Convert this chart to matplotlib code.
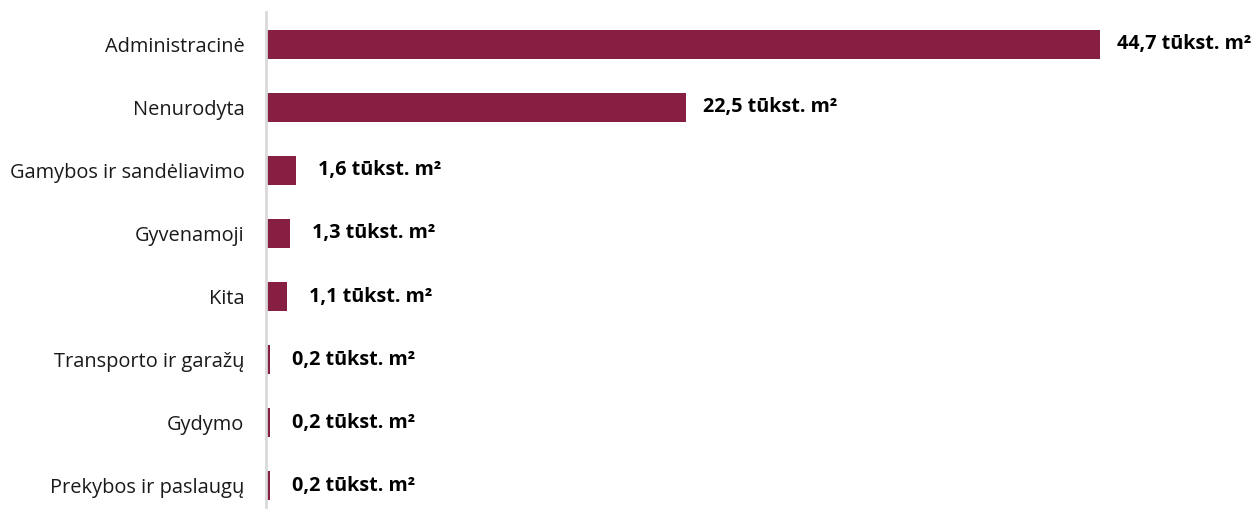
import matplotlib
matplotlib.use("Agg")
import matplotlib.pyplot as plt

categories = ["Administracinė", "Nenurodyta", "Gamybos ir sandėliavimo", "Gyvenamoji",
              "Kita", "Transporto ir garažų", "Gydymo", "Prekybos ir paslaugų"]
values = [44.7, 22.5, 1.6, 1.3, 1.1, 0.2, 0.2, 0.2]
value_labels = ["44,7", "22,5", "1,6", "1,3", "1,1", "0,2", "0,2", "0,2"]
unit = " tūkst. m²"

plt.rcParams['font.family'] = ['Open Sans', 'DejaVu Sans']

fig = plt.figure(figsize=(12.6, 5.09), dpi=100)
ax = fig.add_axes([266/1260, 0, 1 - 266/1260, 1 - 12/509])

ypos = list(range(len(categories)))
ax.barh(ypos, values, height=0.46, color='#861F41')
ax.set_xlim(0, 994/18.66)
ax.set_ylim(7.365, -0.508)

for y, v, lab in zip(ypos, values, value_labels):
    off = 12.5 if v > 5 else 16
    ax.annotate(lab + unit, xy=(v, y), xytext=(off, 0), textcoords='offset points',
                va='center', ha='left', fontsize=14.2, fontweight='bold', color='black')

ax.set_yticks(ypos)
ax.set_yticklabels(categories, fontsize=14.4, color='#1a1a1a')
ax.tick_params(axis='y', length=0, pad=15.5)
ax.set_xticks([])
for s in ['top', 'right', 'bottom']:
    ax.spines[s].set_visible(False)
ax.spines['left'].set_color('#D9D9D9')
ax.spines['left'].set_linewidth(2)

fig.savefig("out.png", dpi=100)
